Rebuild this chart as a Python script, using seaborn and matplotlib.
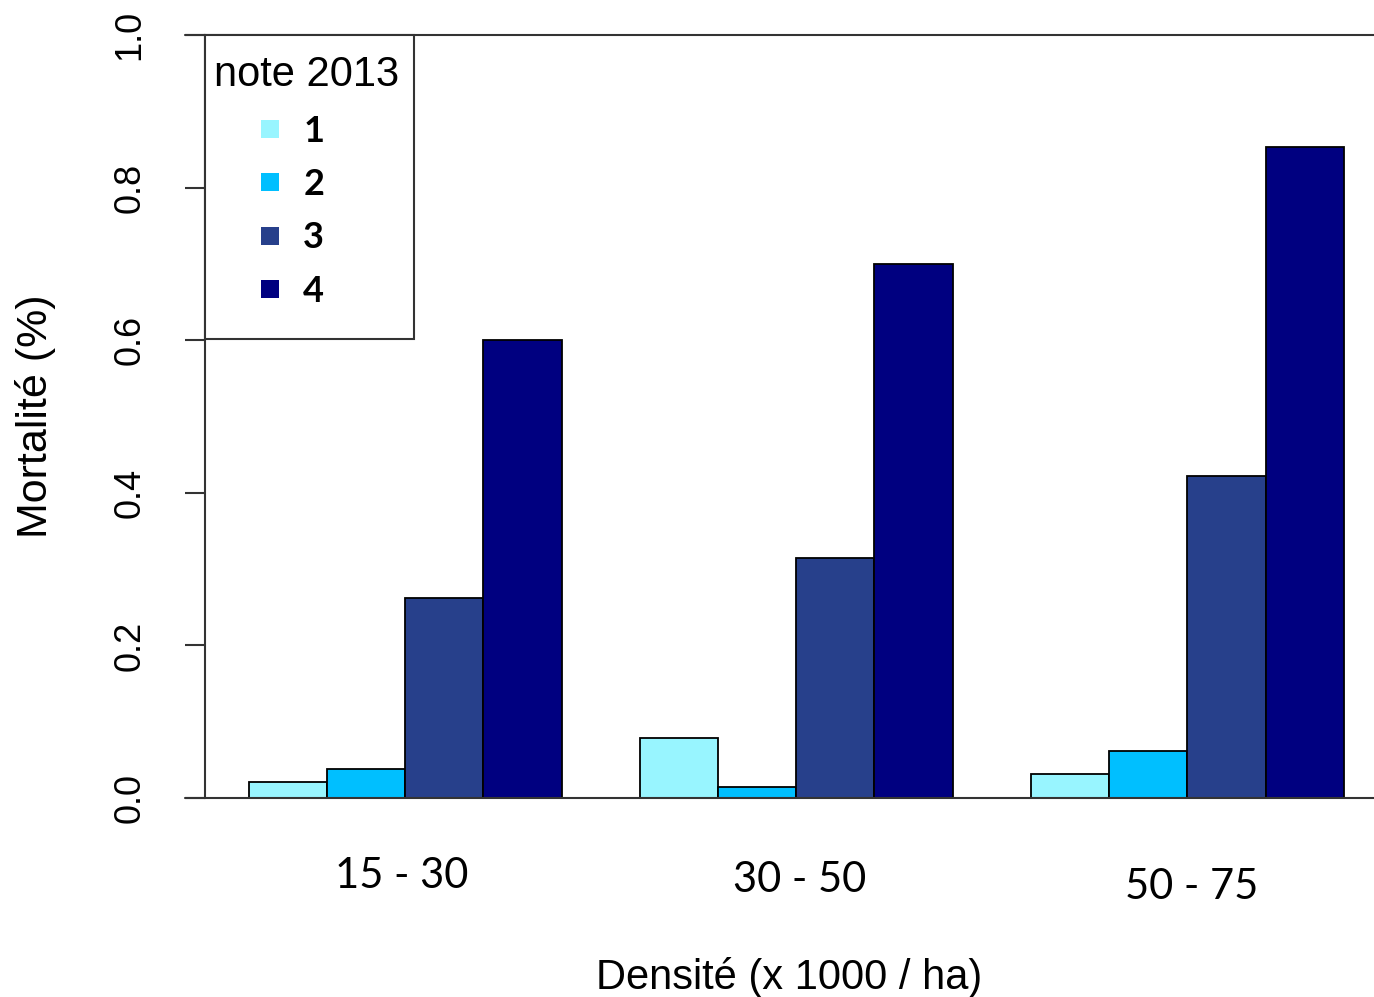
import matplotlib
matplotlib.use("Agg")
import matplotlib.pyplot as plt
import matplotlib.transforms as mtransforms
from matplotlib.font_manager import FontProperties
from matplotlib.lines import Line2D
from matplotlib.path import Path
import numpy as np
import pandas as pd
import seaborn as sns

# Density classes (x 1000 stems / ha) and 2013 damage score levels
densities = ["15 - 30", "30 - 50", "50 - 75"]
notes = ["1", "2", "3", "4"]

# Mortality per density class, one list per 2013 score
note1 = [0.021, 0.079, 0.031]
note2 = [0.038, 0.015, 0.062]
note3 = [0.262, 0.314, 0.422]
note4 = [0.600, 0.700, 0.853]

yticks = [0.0, 0.2, 0.4, 0.6, 0.8, 1.0]
ytick_labels = ["0.0", "0.2", "0.4", "0.6", "0.8", "1.0"]

colors = ["#98F5FF", "#00BFFF", "#27408B", "#000080"]
line_col = "#333333"

df = pd.DataFrame({
    "density": densities * 4,
    "note": [n for n in notes for _ in densities],
    "mortality": note1 + note2 + note3 + note4,
})

sns.set_style("white")
plt.rcParams["font.family"] = ["Liberation Sans", "DejaVu Sans"]
plt.rcParams["text.color"] = "black"
plt.rcParams["axes.labelcolor"] = "black"
plt.rcParams["xtick.color"] = "black"
plt.rcParams["ytick.color"] = "black"

W, H, DPI = 1374, 997, 100
AX_H = 763
fig = plt.figure(figsize=(W / DPI, H / DPI), dpi=DPI)
ax = fig.add_axes([205 / W, 199 / H, 1169 / W, AX_H / H])

sns.barplot(
    data=df, x="density", y="mortality", hue="note",
    order=densities, hue_order=notes, palette=colors,
    width=0.8, gap=0, saturation=1, edgecolor="black", linewidth=1.3,
    legend=False, ax=ax,
)

ax.set_xlim(-0.5115, 2.477)
ax.set_ylim(0, 1)

# axis lines: left spine plus horizontal rules at 0 and 1
for side in ["top", "right", "bottom"]:
    ax.spines[side].set_visible(False)
ax.spines["left"].set_color(line_col)
ax.spines["left"].set_linewidth(1.5)
ext = -20 / 1169
for yv in (0, 1):
    ax.axhline(yv, xmin=ext, xmax=1, color=line_col, lw=1.5,
               clip_on=False, zorder=5)

# y axis
ax.set_yticks(yticks)
ax.set_yticklabels(ytick_labels)
ax.tick_params(axis="y", left=True, length=14.4, width=1.5, color=line_col,
               pad=27, labelsize=26, labelrotation=90, labelcolor="black")
for lab in ax.get_yticklabels():
    lab.set_va("center")
    lab.set_ha("right")
ax.set_ylabel("Mortalité (%)", fontsize=31, labelpad=41, color="black")

# x axis
ax.set_xticks(range(len(densities)))
ax.set_xticklabels(densities, fontfamily="Lato", fontsize=30)
ax.tick_params(axis="x", bottom=False, length=0, pad=45, labelcolor="black")
shifts = [(-3, 4), (3, 0), (4.5, -7)]
for lab, (dx, dy) in zip(ax.get_xticklabels(), shifts):
    lab.set_transform(lab.get_transform() +
                      mtransforms.ScaledTranslation(dx / DPI, dy / DPI, fig.dpi_scale_trans))
ax.set_xlabel("Densité (x 1000 / ha)", fontsize=30, labelpad=37, color="black")

# legend, with a frame that leaves extra room above, below and to the right
PAD_TOP, PAD_BOTTOM, PAD_RIGHT = 11, 23, 7


def legend_frame(x0, y0, width, height, mutation_size):
    x1 = x0 + width + PAD_RIGHT
    y1 = y0 + height + PAD_TOP
    yb = y0 - PAD_BOTTOM
    return Path([(x0, yb), (x1, yb), (x1, y1), (x0, y1), (x0, yb)],
                [Path.MOVETO, Path.LINETO, Path.LINETO, Path.LINETO, Path.CLOSEPOLY])


handles = [Line2D([], [], marker="s", linestyle="none", markersize=13,
                  markerfacecolor=c, markeredgewidth=0) for c in colors]
leg = ax.legend(
    handles, notes, title="note 2013", loc="upper left",
    bbox_to_anchor=(0, 1 - PAD_TOP / AX_H), borderaxespad=0, frameon=True,
    fancybox=False, edgecolor=line_col, framealpha=1, alignment="left",
    prop=FontProperties(family="Lato", weight="bold", size=26),
    title_fontproperties=FontProperties(family="Liberation Sans", size=30),
    borderpad=0.24, labelspacing=0.56, handlelength=3.1, handletextpad=-0.62,
)
frame = leg.get_frame()
frame.set_linewidth(1.5)
frame.set_boxstyle(legend_frame)
leg.set_zorder(10)

fig.savefig("out.png", dpi=DPI, facecolor="white")
